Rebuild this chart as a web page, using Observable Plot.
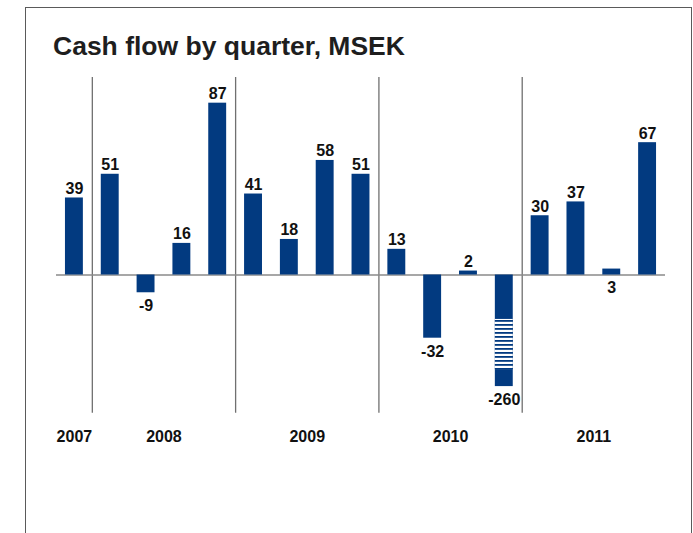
<!DOCTYPE html>
<html><head><meta charset="utf-8">
<script src="https://cdn.jsdelivr.net/npm/d3@7"></script>
<script src="https://cdn.jsdelivr.net/npm/@observablehq/plot@0.6"></script>
<style>
html,body{margin:0;padding:0;background:#fff;}
#wrap{position:relative;width:693px;height:533px;overflow:hidden;font-family:"Liberation Sans",Arial,sans-serif;}
#chart{position:absolute;left:0;top:0;}
#frame{position:absolute;left:25px;top:7px;width:665px;height:600px;border:1.4px solid #5a5a5a;border-bottom:none;}
#title{position:absolute;left:53px;top:32.6px;font-size:26.5px;line-height:26.5px;font-weight:bold;color:#1e1e1e;white-space:nowrap;}
</style></head><body>
<div id="wrap"><div id="chart"></div><div id="frame"></div><div id="title">Cash flow by quarter, MSEK</div></div>
<script>
// Data
const quarters = ["Q4 2007","Q1 2008","Q2 2008","Q3 2008","Q4 2008","Q1 2009","Q2 2009","Q3 2009","Q4 2009","Q1 2010","Q2 2010","Q3 2010","Q4 2010","Q1 2011","Q2 2011","Q3 2011","Q4 2011"];
const barYears = ["2007","2008","2008","2008","2008","2009","2009","2009","2009","2010","2010","2010","2010","2011","2011","2011","2011"];
const values = [39, 51, -9, 16, 87, 41, 18, 58, 51, 13, -32, 2, -260, 30, 37, 3, 67];
const yearLabels = ["2007","2008","2009","2010","2011"];
// Axis break for the off-scale bar
const breakClip = -56.5;           // broken bar is drawn down to this value
const breakBand = [-22.5, -48];    // striped gap region inside the broken bar
const labelsBelowZero = ["Q3 2011"]; // small positive bar whose label sits under the axis

const blue = "#023a80";

const rows = values.map((v, i) => ({
  i, quarter: quarters[i], year: barYears[i], value: v,
  drawn: Math.max(v, breakClip), broken: v < breakClip
}));
const above = rows.filter(d => d.value >= 0 && !labelsBelowZero.includes(d.quarter));
const below = rows.filter(d => d.value < 0 || labelsBelowZero.includes(d.quarter));
const yearRows = yearLabels.map(y => ({year: y, i: d3.mean(rows.filter(r => r.year === y), r => r.i)}));
const yearStarts = yearLabels.slice(1).map(y => d3.min(rows.filter(r => r.year === y), r => r.i) - 0.5);

const chart = Plot.plot({
  width: 693, height: 533,
  marginLeft: 56, marginRight: 28, marginTop: 77, marginBottom: 120.25,
  x: {domain: [-0.5, 16.5], axis: null},
  y: {domain: [-70, 100], axis: null},
  style: {background: "none", fontFamily: "'Liberation Sans', Arial, sans-serif"},
  marks: [
    Plot.ruleX(yearStarts, {stroke: "#707070", strokeWidth: 1.3}),
    Plot.ruleY([0], {stroke: "#8a8a8a", strokeWidth: 1.5}),
    Plot.rectY(rows, {x1: d => d.i - 0.25, x2: d => d.i + 0.25, y1: 0, y2: "drawn", fill: blue}),
    Plot.rectY(rows.filter(d => d.broken), {x1: d => d.i - 0.25, x2: d => d.i + 0.25, y1: breakBand[0], y2: breakBand[1], fill: "url(#breakStripes)"}),
    Plot.text(above, {x: "i", y: "drawn", text: d => String(d.value), lineAnchor: "bottom", dy: -4, fontSize: 16, fontWeight: "bold", fill: "#111"}),
    Plot.text(below, {x: "i", y: d => Math.min(d.drawn, 0), text: d => String(d.value), lineAnchor: "top", dy: 7, fontSize: 16, fontWeight: "bold", fill: "#111"}),
    Plot.text(yearRows, {x: "i", frameAnchor: "bottom", text: "year", lineAnchor: "middle", dy: 24, fontSize: 16, fontWeight: "bold", fill: "#111"})
  ]
});
const defs = d3.select(chart).insert("defs", ":first-child");
const pat = defs.append("pattern").attr("id", "breakStripes").attr("patternUnits", "userSpaceOnUse").attr("width", 20).attr("height", 4);
pat.append("rect").attr("width", 20).attr("height", 4).attr("fill", "#fff");
pat.append("rect").attr("width", 20).attr("height", 1.8).attr("fill", blue);
document.getElementById("chart").appendChild(chart);
</script>
</body></html>
